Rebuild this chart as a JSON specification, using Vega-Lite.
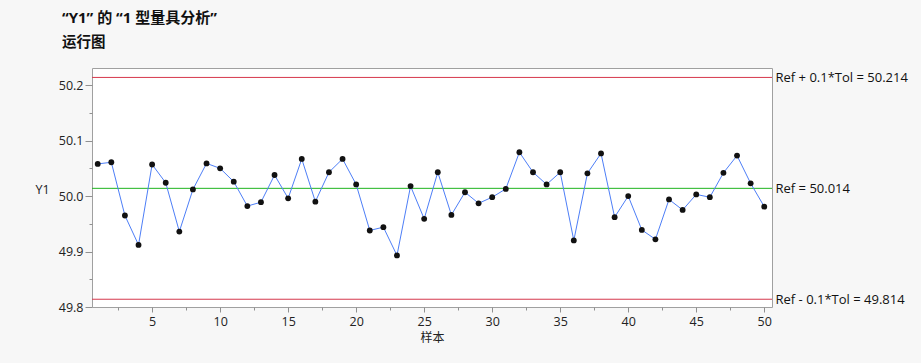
{
  "$schema": "https://vega.github.io/schema/vega-lite/v6.json",
  "width": 680,
  "height": 239,
  "autosize": {"type": "none"},
  "padding": {"left": 92, "top": 68, "right": 149, "bottom": 56},
  "background": "#f7f7f7",
  "config": {
    "view": {"stroke": "#a0a0a0", "fill": "white"},
    "font": "Open Sans",
    "axis": {"labelFont": "Open Sans", "labelFontSize": 12.5, "labelColor": "#222222", "tickColor": "#909090", "grid": false, "domain": false}
  },
  "title": {
    "text": "“Y1” 的 “1 型量具分析”",
    "subtitle": "运行图",
    "anchor": "start",
    "frame": "group",
    "dx": -30,
    "offset": 19,
    "font": "Open Sans, Noto Sans CJK SC",
    "fontSize": 15,
    "fontWeight": "bold",
    "color": "#111111",
    "subtitleFont": "Noto Sans CJK SC",
    "subtitleFontSize": 14.5,
    "subtitleFontWeight": "bold",
    "subtitleColor": "#111111",
    "subtitlePadding": 10
  },
  "datasets": {
    "runs": [
      {"sample": 1, "Y1": 50.058}, {"sample": 2, "Y1": 50.061}, {"sample": 3, "Y1": 49.965},
      {"sample": 4, "Y1": 49.912}, {"sample": 5, "Y1": 50.057}, {"sample": 6, "Y1": 50.024},
      {"sample": 7, "Y1": 49.936}, {"sample": 8, "Y1": 50.012}, {"sample": 9, "Y1": 50.059},
      {"sample": 10, "Y1": 50.050}, {"sample": 11, "Y1": 50.026}, {"sample": 12, "Y1": 49.982},
      {"sample": 13, "Y1": 49.989}, {"sample": 14, "Y1": 50.038}, {"sample": 15, "Y1": 49.996},
      {"sample": 16, "Y1": 50.067}, {"sample": 17, "Y1": 49.990}, {"sample": 18, "Y1": 50.043},
      {"sample": 19, "Y1": 50.067}, {"sample": 20, "Y1": 50.021}, {"sample": 21, "Y1": 49.938},
      {"sample": 22, "Y1": 49.944}, {"sample": 23, "Y1": 49.893}, {"sample": 24, "Y1": 50.018},
      {"sample": 25, "Y1": 49.959}, {"sample": 26, "Y1": 50.043}, {"sample": 27, "Y1": 49.966},
      {"sample": 28, "Y1": 50.007}, {"sample": 29, "Y1": 49.987}, {"sample": 30, "Y1": 49.998},
      {"sample": 31, "Y1": 50.013}, {"sample": 32, "Y1": 50.079}, {"sample": 33, "Y1": 50.043},
      {"sample": 34, "Y1": 50.021}, {"sample": 35, "Y1": 50.043}, {"sample": 36, "Y1": 49.920},
      {"sample": 37, "Y1": 50.041}, {"sample": 38, "Y1": 50.077}, {"sample": 39, "Y1": 49.962},
      {"sample": 40, "Y1": 50.000}, {"sample": 41, "Y1": 49.939}, {"sample": 42, "Y1": 49.922},
      {"sample": 43, "Y1": 49.994}, {"sample": 44, "Y1": 49.975}, {"sample": 45, "Y1": 50.003},
      {"sample": 46, "Y1": 49.998}, {"sample": 47, "Y1": 50.042}, {"sample": 48, "Y1": 50.073},
      {"sample": 49, "Y1": 50.023}, {"sample": 50, "Y1": 49.981}
    ],
    "refs": [
      {"value": 50.214, "kind": "tol"},
      {"value": 50.014, "kind": "ref"},
      {"value": 49.814, "kind": "tol"}
    ]
  },
  "layer": [
    {
      "data": {"name": "refs"},
      "mark": {"type": "rule", "strokeWidth": 1},
      "encoding": {
        "y": {
          "field": "value",
          "type": "quantitative",
          "scale": {"domain": [49.8, 50.231], "zero": false, "nice": false},
          "axis": {
            "orient": "right",
            "title": null,
            "values": [49.814, 50.014, 50.214],
            "ticks": false,
            "labelPadding": 3,
            "labelFontSize": 13,
            "labelColor": "#111111",
            "labelExpr": "datum.value > 50.1 ? 'Ref + 0.1*Tol = 50.214' : (datum.value > 49.9 ? 'Ref = 50.014' : 'Ref - 0.1*Tol = 49.814')"
          }
        },
        "color": {
          "field": "kind",
          "type": "nominal",
          "scale": {"domain": ["tol", "ref"], "range": ["#d6384c", "#1fb41f"]},
          "legend": null
        }
      }
    },
    {
      "data": {"name": "runs"},
      "mark": {
        "type": "line",
        "color": "#4d7ef7",
        "strokeWidth": 1,
        "point": {"filled": true, "color": "#111111", "size": 34, "opacity": 1}
      },
      "encoding": {
        "x": {
          "field": "sample",
          "type": "quantitative",
          "scale": {"domain": [0.58, 50.57], "zero": false, "nice": false},
          "axis": {
            "title": "样本",
            "titleFont": "Noto Sans CJK SC",
            "titleFontSize": 12,
            "titleFontWeight": "normal",
            "titleColor": "#222222",
            "titlePadding": 5,
            "values": [2.5, 5, 7.5, 10, 12.5, 15, 17.5, 20, 22.5, 25, 27.5, 30, 32.5, 35, 37.5, 40, 42.5, 45, 47.5, 50],
            "labelExpr": "datum.value % 5 == 0 ? format(datum.value, 'd') : ''",
            "tickSize": {"condition": {"test": "datum.value % 5 == 0", "value": 5}, "value": 3},
            "labelPadding": 3
          }
        },
        "y": {
          "field": "Y1",
          "type": "quantitative",
          "scale": {"domain": [49.8, 50.231], "zero": false, "nice": false},
          "axis": {
            "orient": "left",
            "title": "Y1",
            "titleAngle": 0,
            "titleAlign": "center",
            "titleBaseline": "middle",
            "titleX": -50,
            "titleY": 121,
            "titleFont": "Open Sans",
            "titleFontSize": 12.5,
            "titleFontWeight": "normal",
            "titleColor": "#222222",
            "values": [49.8, 49.85, 49.9, 49.95, 50.0, 50.05, 50.1, 50.15, 50.2],
            "labelExpr": "abs(datum.value * 10 - round(datum.value * 10)) < 0.01 ? format(datum.value, '.1f') : ''",
            "tickSize": {"condition": {"test": "abs(datum.value * 10 - round(datum.value * 10)) < 0.01", "value": 7}, "value": 3},
            "labelPadding": 2
          }
        }
      }
    }
  ],
  "resolve": {"axis": {"y": "independent"}}
}
